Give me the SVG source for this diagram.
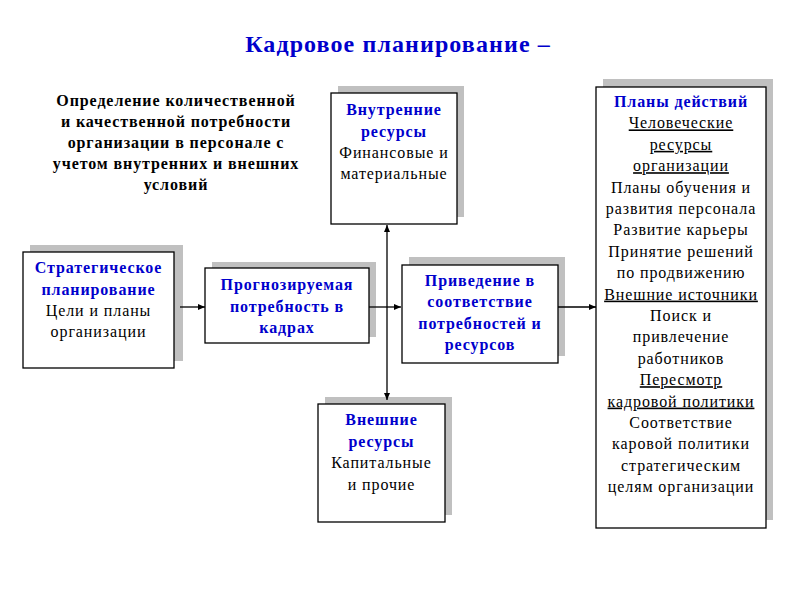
<svg xmlns="http://www.w3.org/2000/svg" width="800" height="600" viewBox="0 0 800 600">
<defs>
<style>
text{font-family:"Liberation Serif","Times New Roman",serif;font-size:16px;letter-spacing:0.9px;text-anchor:middle;fill:#000}
.b{font-weight:bold;fill:#0000CC}
.k{font-weight:bold;fill:#000}
.u{text-decoration:underline}
.title{font-size:24px;letter-spacing:1.1px;font-weight:bold;fill:#0000CC}
.sh{fill:#C0C0C0}
.bx{fill:#fff;stroke:#000;stroke-width:1.3}
.ln{stroke:#000;stroke-width:1.3;fill:none}
</style>
<marker id="ah" markerWidth="8" markerHeight="8" refX="7" refY="4" orient="auto" markerUnits="userSpaceOnUse">
<path d="M0,1 L7,4 L0,7 Z" fill="#000"/>
</marker>
</defs>
<rect width="800" height="600" fill="#fff"/>
<text class="title" x="398" y="52">Кадровое планирование –</text>
<g id="intro">
<text class="k" x="176" y="106">Определение количественной</text>
<text class="k" x="176" y="127">и качественной потребности</text>
<text class="k" x="176" y="148">организации в персонале с</text>
<text class="k" x="176" y="169">учетом внутренних и внешних</text>
<text class="k" x="176" y="190">условий</text>
</g>
<g id="strategic">
<rect class="sh" x="30" y="245" width="153" height="116"/>
<rect class="bx" x="23" y="252" width="151" height="116"/>
<text class="b" x="98.5" y="273">Стратегическое</text>
<text class="b" x="98.5" y="295">планирование</text>
<text x="98.5" y="316">Цели и планы</text>
<text x="98.5" y="337">организации</text>
</g>
<g id="forecast">
<rect class="sh" x="212" y="262" width="164" height="75"/>
<rect class="bx" x="205" y="268" width="164" height="75"/>
<text class="b" x="287" y="290">Прогнозируемая</text>
<text class="b" x="287" y="312">потребность в</text>
<text class="b" x="287" y="333">кадрах</text>
</g>
<g id="internal">
<rect class="sh" x="338" y="86" width="126" height="131"/>
<rect class="bx" x="331" y="93" width="126" height="131"/>
<text class="b" x="394" y="115">Внутренние</text>
<text class="b" x="394" y="137">ресурсы</text>
<text x="394" y="158">Финансовые и</text>
<text x="394" y="179">материальные</text>
</g>
<g id="matching">
<rect class="sh" x="409" y="257" width="156" height="99"/>
<rect class="bx" x="402" y="265" width="156" height="98"/>
<text class="b" x="480" y="286">Приведение в</text>
<text class="b" x="480" y="307">соответствие</text>
<text class="b" x="480" y="329">потребностей и</text>
<text class="b" x="480" y="350">ресурсов</text>
</g>
<g id="external">
<rect class="sh" x="325" y="397" width="127" height="118"/>
<rect class="bx" x="318" y="404" width="127" height="118"/>
<text class="b" x="381.5" y="425">Внешние</text>
<text class="b" x="381.5" y="447">ресурсы</text>
<text x="381.5" y="468">Капитальные</text>
<text x="381.5" y="490">и прочие</text>
</g>
<g id="plans">
<rect class="sh" x="603" y="79" width="170" height="441"/>
<rect class="bx" x="596" y="87" width="170" height="441"/>
<text class="b" x="681" y="107">Планы действий</text>
<text class="u" x="681" y="128.4">Человеческие</text>
<text class="u" x="681" y="149.8">ресурсы</text>
<text class="u" x="681" y="171.2">организации</text>
<text x="681" y="192.6">Планы обучения и</text>
<text x="681" y="214">развития персонала</text>
<text x="681" y="235.4">Развитие карьеры</text>
<text x="681" y="256.8">Принятие решений</text>
<text x="681" y="278.2">по продвижению</text>
<text class="u" x="681" y="299.6">Внешние источники</text>
<text x="681" y="321">Поиск и</text>
<text x="681" y="342.4">привлечение</text>
<text x="681" y="363.8">работников</text>
<text class="u" x="681" y="385.2">Пересмотр</text>
<text class="u" x="681" y="406.6">кадровой политики</text>
<text x="681" y="428">Соответствие</text>
<text x="681" y="449.4">каровой политики</text>
<text x="681" y="470.8">стратегическим</text>
<text x="681" y="492.2">целям организации</text>
</g>
<g id="connectors">
<line class="ln" x1="180" y1="307" x2="205" y2="307" marker-end="url(#ah)"/>
<line class="ln" x1="369" y1="307" x2="401" y2="307" marker-end="url(#ah)"/>
<line class="ln" x1="387" y1="300" x2="387" y2="225" marker-end="url(#ah)"/>
<line class="ln" x1="387" y1="300" x2="387" y2="400" marker-end="url(#ah)"/>
<line class="ln" x1="558" y1="307" x2="596" y2="307" marker-end="url(#ah)"/>
</g>
</svg>
